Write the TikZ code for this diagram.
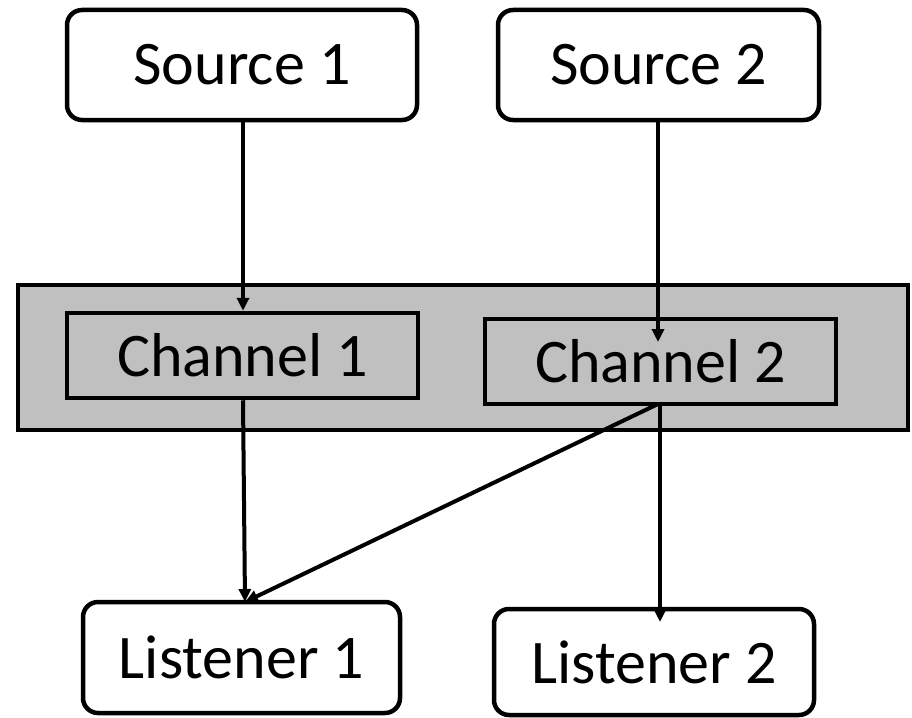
\documentclass[tikz,border=0pt]{standalone}
\usepackage{fontspec}
\setmainfont{Carlito}
\usetikzlibrary{arrows.meta}
\begin{document}
\begin{tikzpicture}[x=1pt,y=-1pt,
  rbox/.style={draw=black,line width=4.5pt,rounded corners=15pt,fill=white,inner sep=0pt,
    font=\fontsize{62}{70}\selectfont},
  chbox/.style={draw=black,line width=4.5pt,fill=chgray,inner sep=0pt,
    font=\fontsize{62}{70}\selectfont},
  conn/.style={line width=4pt,-{Triangle[length=13pt,width=12pt]}}]
\definecolor{chgray}{RGB}{192,192,192}
\useasboundingbox (0,0) rectangle (912,717);
\fill[white] (0,0) rectangle (912,717);
\node[draw=black,line width=4pt,fill=chgray,minimum width=890pt,minimum height=145pt,inner sep=0pt] (net) at (463,357.5) {};
\node[rbox,minimum width=350pt,minimum height=110pt] (s1) at (242,65) {Source 1};
\node[rbox,minimum width=321pt,minimum height=110pt] (s2) at (658.5,65) {Source 2};
\node[chbox,minimum width=351pt,minimum height=85pt] (c1) at (242.5,355.5) {Channel 1};
\node[chbox,minimum width=351pt,minimum height=85pt] (c2) at (660.5,361.5) {Channel 2};
\node[rbox,minimum width=317pt,minimum height=111pt] (l1) at (241.5,657.5) {Listener 1};
\node[rbox,minimum width=320pt,minimum height=106pt] (l2) at (654,662) {Listener 2};
\coordinate (c2in) at (658,342);
\coordinate (l2in) at (660,622);
\coordinate (c2out) at (658,404);
\coordinate (l1in) at (245,602);
\draw[conn] (s1.south -| 243,0) -- (c1.north -| 243,0);
\draw[conn] (s2.south -| c2in) -- (c2in);
\draw[conn] (c1.south -| 243,0) -- (l1in);
\draw[conn] (c2out) -- (l1in);
\draw[conn] (c2.south -| l2in) -- (l2in);
\end{tikzpicture}
\end{document}
